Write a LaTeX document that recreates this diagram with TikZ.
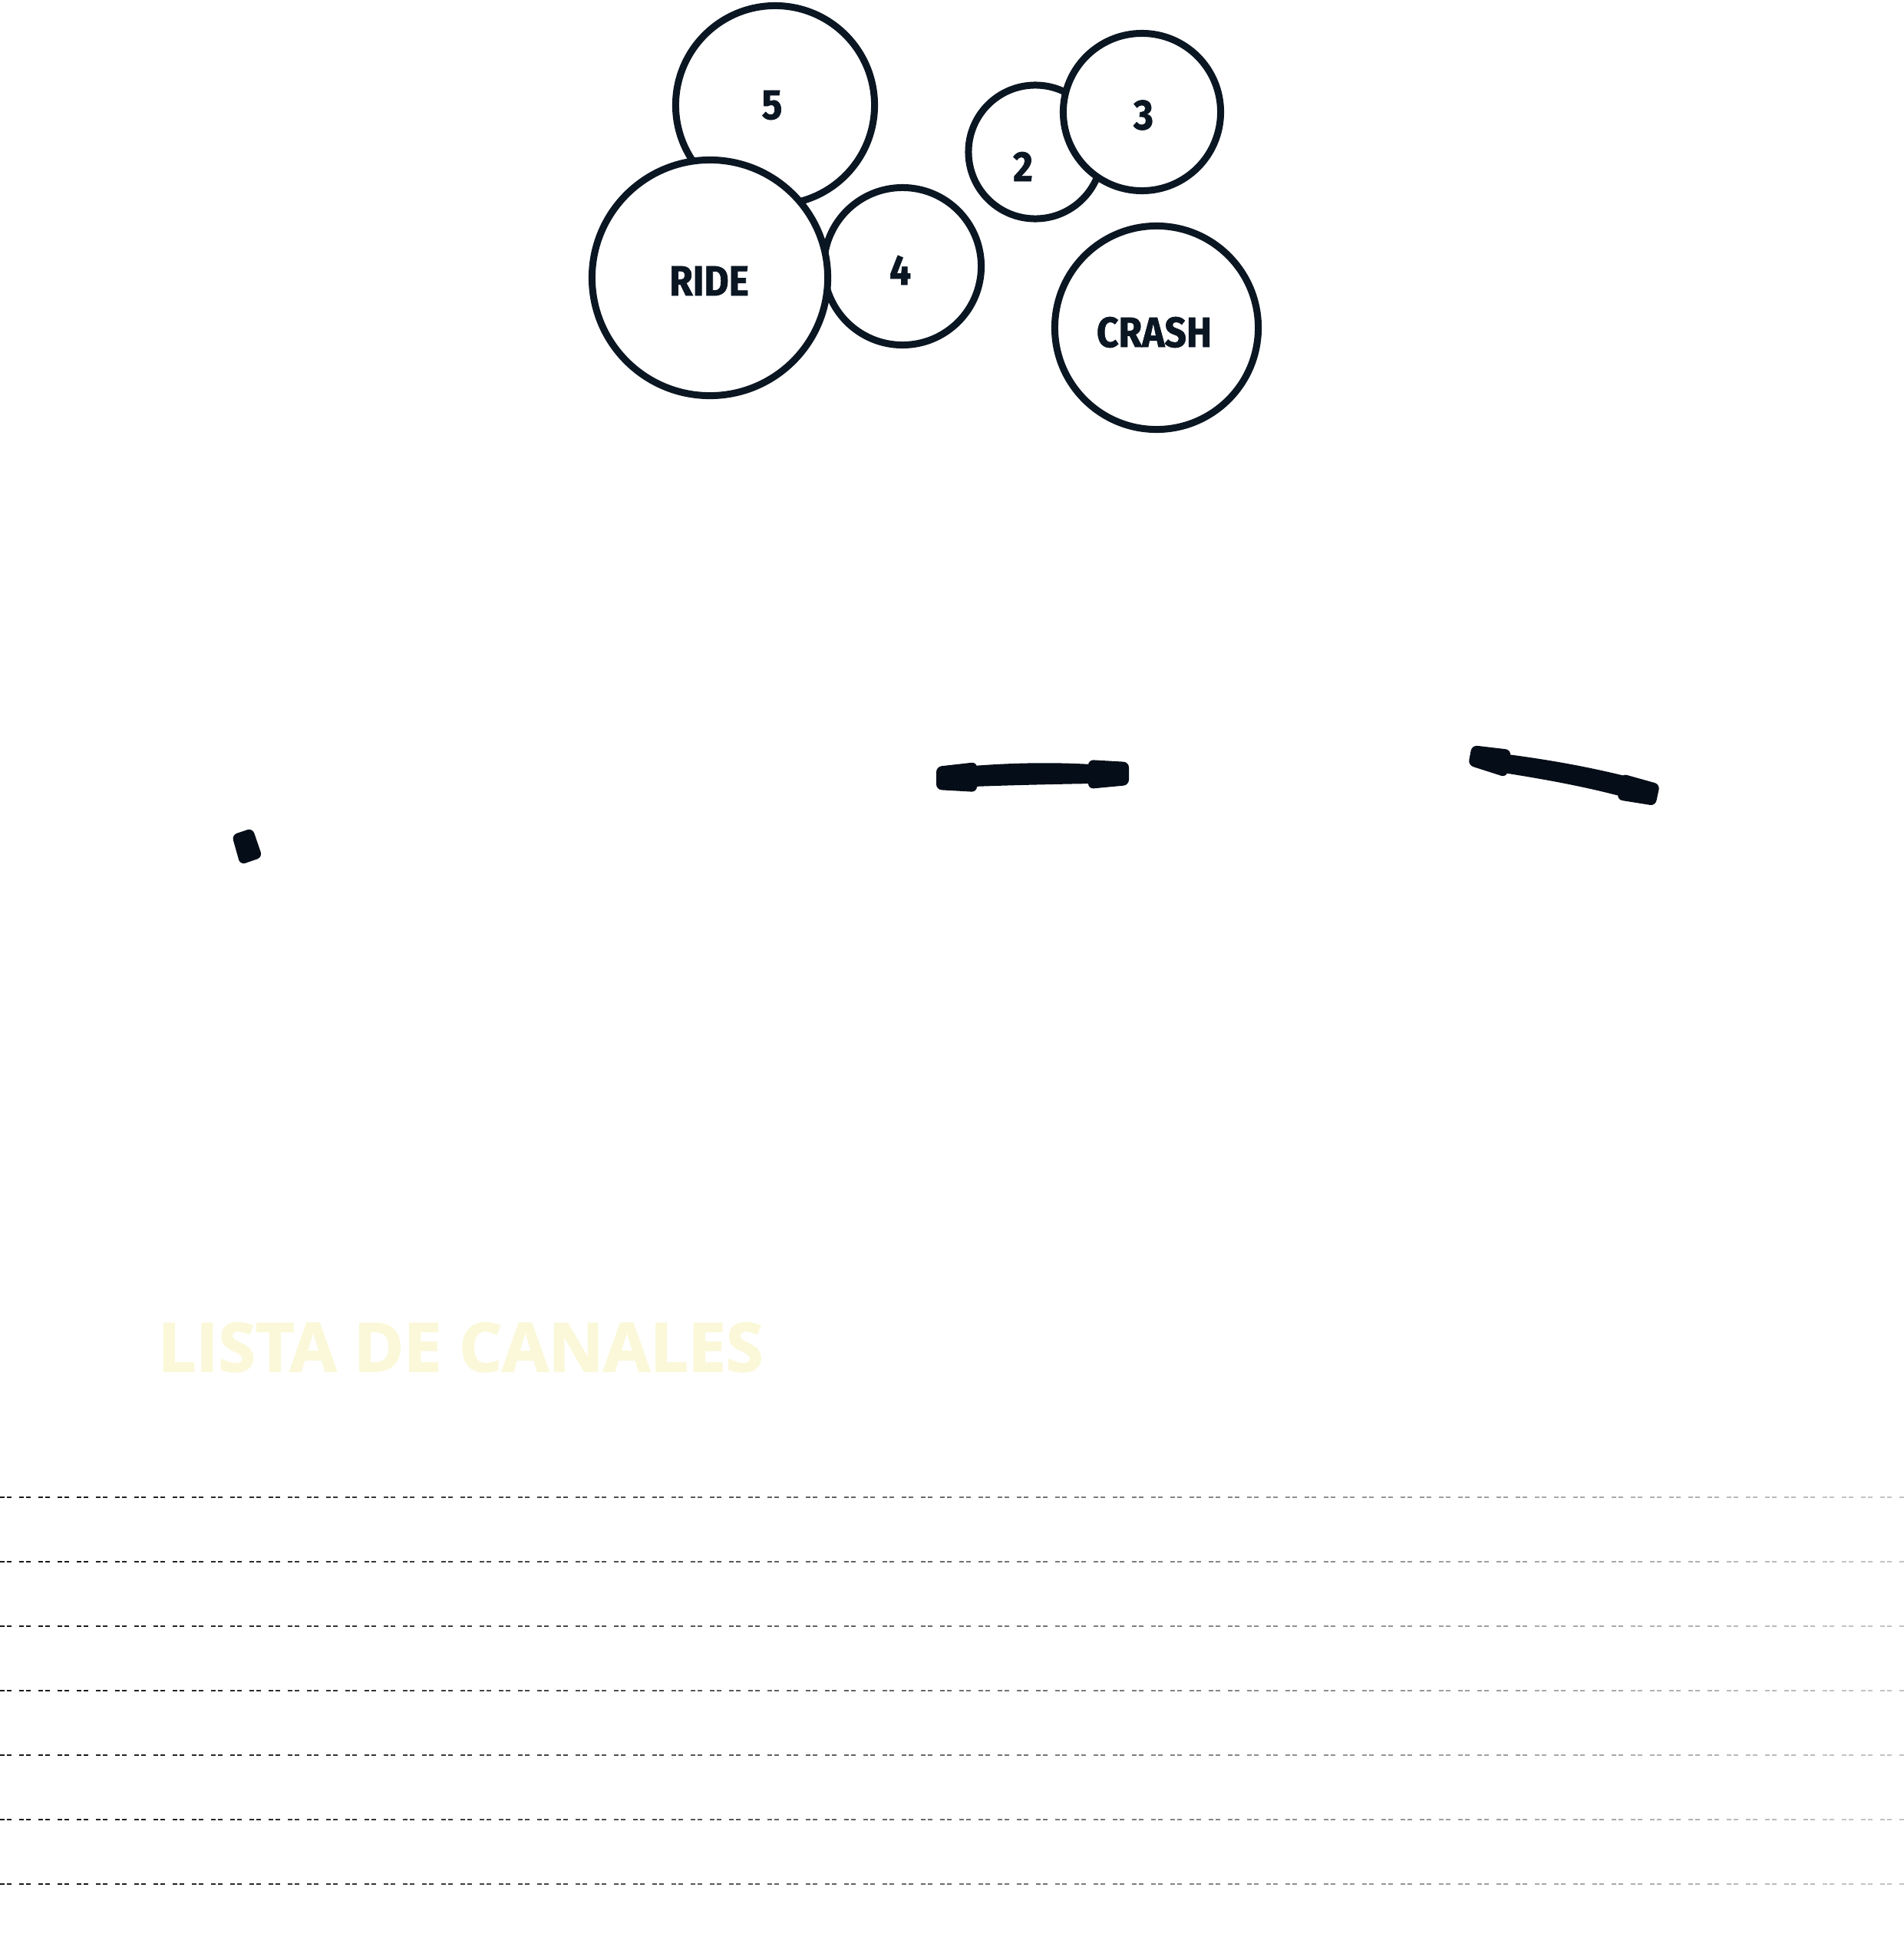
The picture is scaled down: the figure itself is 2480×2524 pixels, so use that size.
\documentclass[tikz,border=0pt]{standalone}
\usepackage{fontspec}
\setmainfont{Fira Sans}
\newfontfamily\kitfont[BoldFeatures={FakeBold=1.2}, FakeStretch=0.9]{Fira Sans}
\newfontfamily\headfont[BoldFeatures={FakeBold=2}]{Open Sans}
\definecolor{ink}{HTML}{0B1623}
\definecolor{stickink}{HTML}{050D18}
\definecolor{pale}{HTML}{FAF8D9}
\begin{document}
\begin{tikzpicture}[
        x=0.01cm, y=-0.01cm,
        drum/.style={circle, draw=ink, fill=white, line width=0.09cm, inner sep=0pt},
        lbl/.style={text=ink, font=\kitfont\fontsize{15.7}{18}\selectfont\bfseries, inner sep=0pt},
        stick/.style={fill=stickink, rounded corners=2pt},
        title/.style={text=pale, font=\headfont\fontsize{25}{30}\selectfont\bfseries, inner sep=0pt},
        rule/.style={line width=0.018cm, dash pattern=on 0.06cm off 0.03cm on 0.06cm off 0.10cm}
    ]
    \useasboundingbox (0,0) rectangle (2480,2524);

    % Cymbals and toms
    \node[drum, minimum size=2.59cm] (t5) at (1010,137) {};
    \node[drum, minimum size=2.05cm] (t4) at (1176,347) {};
    \node[drum, minimum size=3.07cm] (ride) at (925,362) {};
    \node[drum, minimum size=1.74cm] (t2) at (1349,198) {};
    \node[drum, minimum size=2.05cm] (t3) at (1488,146) {};
    \node[drum, minimum size=2.65cm] (crash) at (1507,427) {};

    % Labels
    \node[lbl] (l5) at (1006,137) {5};
    \node[lbl] (l4) at (1173,352) {4};
    \node[lbl] (lride) at (924,366) {RIDE};
    \node[lbl] (l2) at (1333,217) {2};
    \node[lbl] (l3) at (1490,150) {3};
    \node[lbl] (lcrash) at (1504,433) {CRASH};

    % Sticks
    \fill[stick] (302,1088) -- (329,1079) -- (342,1117) -- (313,1127) -- cycle;
    \fill[stick] (1220,999) -- (1273,993) -- (1273,1032) -- (1220,1029) -- cycle;
    \fill[stick] (1418,990) -- (1471,993) -- (1471,1023) -- (1418,1028) -- cycle;
    \fill[stickink] (1268,998) .. controls (1320,994) and (1370,993) .. (1422,996)
        -- (1422,1021) .. controls (1370,1022) and (1320,1023) .. (1268,1025) -- cycle;
    \fill[stick] (1918,971) -- (1969,977) -- (1963,1013) -- (1913,997) -- cycle;
    \fill[stick] (2113,1008) -- (2163,1022) -- (2157,1050) -- (2107,1042) -- cycle;
    \fill[stickink] (1965,983) .. controls (2010,989) and (2060,997) .. (2117,1011)
        -- (2110,1037) .. controls (2060,1024) and (2010,1015) .. (1959,1007) -- cycle;

    % Channel list
    \node[title, anchor=base west] (title) at (205,1787) {LISTA DE CANALES};
    \foreach \k in {0,...,6}
        \foreach \s in {0,...,19} {
            \pgfmathsetmacro\shade{90-3.5*\s}
            \draw[rule, black!\shade] ({\s*125},{1951+84*\k}) -- ++(125,0);
        }
\end{tikzpicture}
\end{document}
